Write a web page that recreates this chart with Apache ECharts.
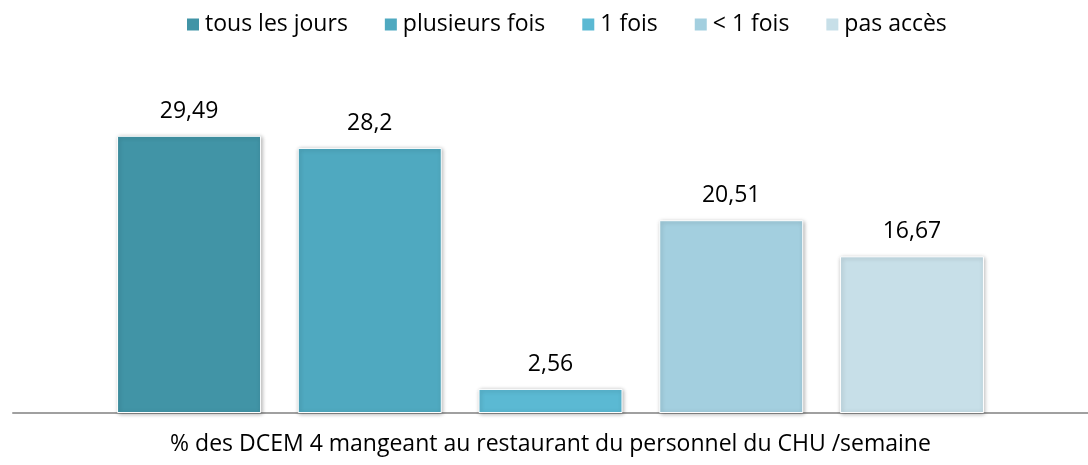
<!DOCTYPE html>
<html>
<head>
<meta charset="utf-8">
<script src="https://cdn.jsdelivr.net/npm/echarts@6/dist/echarts.min.js"></script>
<style>
  html, body { margin: 0; padding: 0; background: #fff; }
  #chart { width: 1088px; height: 465px; }
</style>
</head>
<body>
<div id="chart"></div>
<script>
var category = ["% des DCEM 4 mangeant au restaurant du personnel du CHU /semaine"];
var seriesNames = ["tous les jours", "plusieurs fois", "1 fois", "< 1 fois", "pas accès"];
var values = [29.49, 28.2, 2.56, 20.51, 16.67];
var colors = ["#4194a6", "#4fa9c0", "#5bb9d3", "#a3cfdf", "#c7dfe8"];

var font = "Open Sans";

var series = seriesNames.map(function (name, i) {
  return {
    name: name,
    type: "bar",
    barWidth: 144,
    barGap: "25.5%",
    data: [values[i]],
    itemStyle: {
      color: colors[i],
      borderColor: "#fff",
      borderWidth: 1,
      shadowBlur: 4,
      shadowColor: "rgba(0,0,0,0.3)",
      shadowOffsetX: 1,
      shadowOffsetY: 1
    },
    label: {
      show: true,
      position: "top",
      distance: 13,
      fontFamily: font,
      fontSize: 23,
      color: "#000",
      formatter: function (p) {
        return String(p.value).replace(".", ",");
      }
    }
  };
});

var myChart = echarts.init(document.getElementById("chart"));
myChart.setOption({
  animation: false,
  color: colors,
  legend: {
    top: 8,
    left: 180,
    icon: "rect",
    itemWidth: 14,
    itemHeight: 14,
    itemGap: 35,
    itemTextGap: 5,
    textStyle: { fontFamily: font, fontSize: 23, color: "#000" },
    data: seriesNames
  },
  grid: { left: 13, right: 0, top: 84, bottom: 52 },
  xAxis: {
    type: "category",
    data: category,
    axisLine: { lineStyle: { color: "#a0a0a0", width: 2 } },
    axisTick: { show: false },
    axisLabel: { margin: 20, fontFamily: font, fontSize: 23, color: "#000" }
  },
  yAxis: {
    type: "value",
    min: 0,
    max: 35,
    show: false,
    splitLine: { show: false }
  },
  series: series
});
</script>
</body>
</html>
